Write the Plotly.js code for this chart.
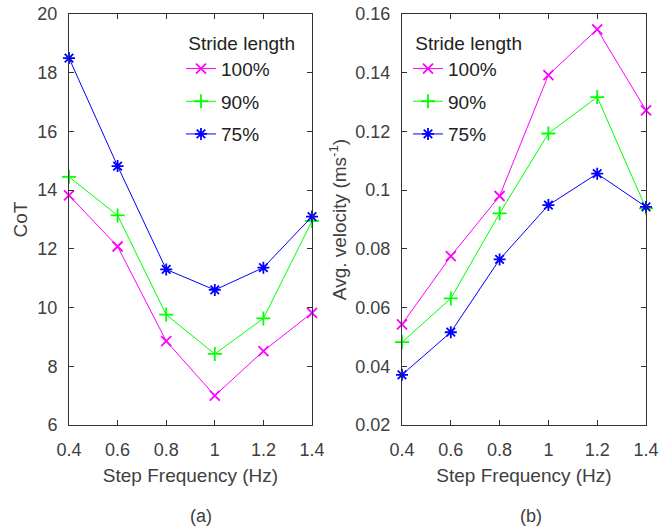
<!DOCTYPE html>
<html><head><meta charset="utf-8">
<script src="https://cdn.plot.ly/plotly-3.0.1.min.js"></script>
<style>body{margin:0;padding:0;background:#fff}#chart{width:672px;height:531px}</style>
</head><body><div id="chart"></div>
<script>
const freq = [0.4, 0.6, 0.8, 1.0, 1.2, 1.4];
const seriesNames = ['100%', '90%', '75%'];
const cot100 = [13.82, 12.08, 8.86, 7.0, 8.52, 9.82];
const cot90 = [14.45, 13.14, 9.76, 8.42, 9.63, 12.95];
const cot75 = [18.5, 14.82, 11.3, 10.6, 11.36, 13.1];
const vel100 = [0.0543, 0.0775, 0.098, 0.1392, 0.1548, 0.1272];
const vel90 = [0.0482, 0.0631, 0.0921, 0.1193, 0.1317, 0.0938];
const vel75 = [0.0371, 0.0516, 0.0764, 0.0949, 0.1056, 0.0943];

const colors = ['#ff00ff', '#00ff00', '#0000ff'];
const symbols = ['x-thin-open', 'cross-thin-open', 'asterisk-open'];
const font = 'Liberation Sans, Arial, Helvetica, sans-serif';
const tcol = '#404040';

function mk(y, i, xa, ya, leg) {
  return {
    x: freq, y: y, name: seriesNames[i], type: 'scatter', mode: 'lines+markers',
    xaxis: xa, yaxis: ya, legend: leg, legendgroup: leg + i,
    cliponaxis: false,
    line: {color: colors[i], width: 1},
    marker: {symbol: symbols[i], size: 10, color: colors[i], line: {color: colors[i], width: 1.8}}
  };
}
const traces = [
  mk(cot100, 0, 'x', 'y', 'legend'), mk(cot90, 1, 'x', 'y', 'legend'), mk(cot75, 2, 'x', 'y', 'legend'),
  mk(vel100, 0, 'x2', 'y2', 'legend2'), mk(vel90, 1, 'x2', 'y2', 'legend2'), mk(vel75, 2, 'x2', 'y2', 'legend2')
];

function xax(dom, anchor) {
  return {
    domain: dom, anchor: anchor, range: [0.4, 1.4], tickvals: [0.4, 0.6, 0.8, 1, 1.2, 1.4],
    ticktext: ['0.4', '0.6', '0.8', '1', '1.2', '1.4'],
    ticks: 'inside', ticklen: 5, tickcolor: '#333', showline: true, linecolor: '#333', linewidth: 1,
    mirror: 'ticks', showgrid: false, zeroline: false, automargin: false, ticklabelstandoff: 8,
    tickfont: {family: font, size: 18, color: tcol},
    title: {text: 'Step Frequency (Hz)', font: {family: font, size: 19, color: tcol}, standoff: 10}
  };
}
function yax(dom, anchor, range, dtick, title, fmt, so) {
  return {
    domain: dom, anchor: anchor, range: range, dtick: dtick, tick0: range[0],
    ticks: 'inside', ticklen: 5, tickcolor: '#333', showline: true, linecolor: '#333', linewidth: 1,
    mirror: 'ticks', showgrid: false, zeroline: false, automargin: false, tickformat: fmt, ticklabelstandoff: 7,
    tickfont: {family: font, size: 18, color: tcol},
    title: {text: title, font: {family: font, size: 19, color: tcol}, standoff: so}
  };
}
function leg(x) {
  return {
    x: x, y: 1 - 25 / 531, xanchor: 'left', yanchor: 'top', bgcolor: 'rgba(0,0,0,0)',
    title: {text: '\u00A0Stride length', font: {family: font, size: 19, color: '#222'}},
    font: {family: font, size: 19, color: '#222'}, itemwidth: 30, traceorder: 'grouped', tracegroupgap: 5
  };
}
const ydom = [1 - 425 / 531, 1 - 14 / 531];
const layout = {
  width: 672, height: 531, margin: {l: 0, r: 0, t: 0, b: 0},
  paper_bgcolor: '#fff', plot_bgcolor: '#fff', showlegend: true,
  xaxis: xax([69 / 672, 312 / 672], 'y'),
  yaxis: yax(ydom, 'x', [6, 20], 2, 'CoT', 'd', 4),
  xaxis2: xax([402 / 672, 646 / 672], 'y2'),
  yaxis2: yax(ydom, 'x2', [0.02, 0.16], 0.02, 'Avg. velocity (ms<sup>-1</sup>)', '', 3),
  legend: leg(181 / 672),
  legend2: leg(408 / 672),
  annotations: [
    {text: '(a)', x: 201 / 672, y: 1 - 516 / 531, xref: 'paper', yref: 'paper', showarrow: false,
     xanchor: 'center', yanchor: 'middle', font: {family: font, size: 18, color: tcol}},
    {text: '(b)', x: 531 / 672, y: 1 - 516 / 531, xref: 'paper', yref: 'paper', showarrow: false,
     xanchor: 'center', yanchor: 'middle', font: {family: font, size: 18, color: tcol}}
  ]
};
Plotly.newPlot('chart', traces, layout, {displayModeBar: false, staticPlot: true});
</script></body></html>
